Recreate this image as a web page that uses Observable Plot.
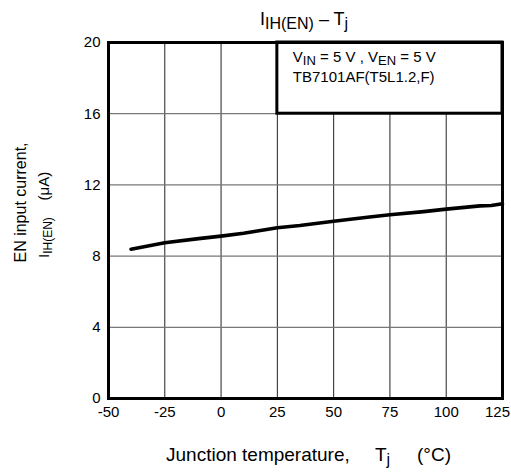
<!DOCTYPE html>
<html>
<head>
<meta charset="utf-8">
<script src="https://cdn.jsdelivr.net/npm/d3@7"></script>
<script src="https://cdn.jsdelivr.net/npm/@observablehq/plot@0.6"></script>
<style>
  body { margin: 0; background: #fff; }
  svg text { white-space: pre; }
</style>
</head>
<body>
<div id="chart"></div>
<script>
const temps = [-40, -25, -10, 0, 10, 25, 35, 50, 65, 75, 90, 100, 115, 120, 125];
const currents = [8.39, 8.75, 8.98, 9.12, 9.28, 9.59, 9.72, 9.96, 10.18, 10.32, 10.5, 10.64, 10.82, 10.84, 10.94];
const xTicks = [-50, -25, 0, 25, 50, 75, 100, 125];
const yTicks = [0, 4, 8, 12, 16, 20];
const legendLines = ["TB7101AF(T5L1.2,F)"];

const data = temps.map((t, i) => ({t, v: currents[i]}));
const font = "'Liberation Sans', Arial, sans-serif";
const fmt = d => String(d);

const chart = Plot.plot({
  width: 511,
  height: 472,
  marginLeft: 108,
  marginRight: 9,
  marginTop: 42,
  marginBottom: 74,
  style: {fontFamily: font, background: "white", color: "black"},
  x: {domain: [-50, 125]},
  y: {domain: [0, 20]},
  marks: [
    Plot.ruleX(xTicks.slice(1, -1), {stroke: "#222", strokeWidth: 1}),
    Plot.ruleY(yTicks.slice(1, -1), {stroke: "#777", strokeWidth: 1.3}),
    Plot.line(data, {x: "t", y: "v", stroke: "black", strokeWidth: 3.6}),
    Plot.rect([{x1: 25, x2: 125, y1: 16, y2: 20}], {x1: "x1", x2: "x2", y1: "y1", y2: "y2", fill: "white", stroke: "black", strokeWidth: 3}),
    Plot.frame({stroke: "black", strokeWidth: 3}),
    Plot.axisX(xTicks.slice(0, -1), {tickSize: 0, tickPadding: 8, fontSize: 15, label: null, tickFormat: fmt}),
    Plot.axisX(xTicks.slice(-1), {tickSize: 0, tickPadding: 8, fontSize: 15, label: null, tickFormat: fmt, dx: -5}),
    Plot.axisY(yTicks, {tickSize: 0, tickPadding: 8, fontSize: 15, label: null, tickFormat: fmt})
  ]
});

document.getElementById("chart").appendChild(chart);
const svg = d3.select(chart);
const xs = chart.scale("x");

// Title
const title = svg.append("text").attr("x", 260).attr("y", 25).attr("text-anchor", "start")
  .attr("font-family", font).attr("font-size", 18).attr("fill", "black");
title.append("tspan").text("I");
title.append("tspan").attr("dy", 4).attr("font-size", 16).text("IH(EN)");
title.append("tspan").attr("dy", -4).text(" \u2013 T");
title.append("tspan").attr("dy", 4).attr("font-size", 16).text("j");

// Legend text
const lx = xs.apply(25) + 16;
const l1 = svg.append("text").attr("x", lx).attr("y", 62).attr("text-anchor", "start")
  .attr("font-family", font).attr("font-size", 15).attr("fill", "black");
l1.append("tspan").text("V");
l1.append("tspan").attr("dy", 3).attr("font-size", 13).text("IN");
l1.append("tspan").attr("dy", -3).text(" = 5 V , V");
l1.append("tspan").attr("dy", 3).attr("font-size", 13).text("EN");
l1.append("tspan").attr("dy", -3).text(" = 5 V");
svg.append("text").attr("x", lx).attr("y", 82).attr("text-anchor", "start")
  .attr("font-family", font).attr("font-size", 15).attr("fill", "black")
  .text(legendLines[0]);

// X label
const xl = svg.append("g").attr("font-family", font).attr("font-size", 19).attr("fill", "black").attr("text-anchor", "start");
xl.append("text").attr("x", 166).attr("y", 461).text("Junction temperature,");
const tj = xl.append("text").attr("x", 375).attr("y", 461);
tj.append("tspan").text("T");
tj.append("tspan").attr("dy", 4).attr("font-size", 16).text("j");
xl.append("text").attr("x", 417).attr("y", 461).text("(\u00b0C)");

// Y label
svg.append("text").attr("transform", "translate(26,202.5) rotate(-90)")
  .attr("text-anchor", "middle").attr("font-family", font).attr("font-size", 16).attr("fill", "black")
  .text("EN input current,");
const y2 = svg.append("text").attr("transform", "translate(49,258) rotate(-90)").attr("text-anchor", "start")
  .attr("font-family", font).attr("font-size", 15).attr("fill", "black");
y2.append("tspan").text("I");
y2.append("tspan").attr("dy", 3).attr("font-size", 12).text("IH(EN)");
y2.append("tspan").attr("dy", -3).text("    (\u03bcA)");
</script>
</body>
</html>
